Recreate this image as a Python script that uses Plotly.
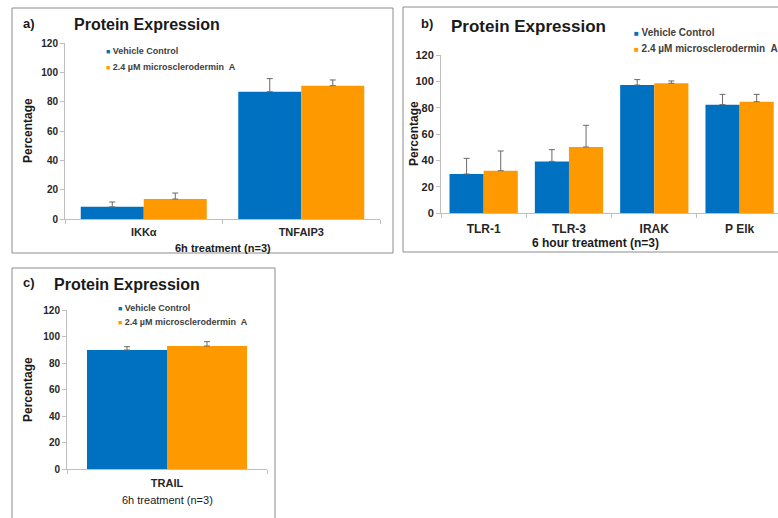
import plotly.graph_objects as go

# ---------------- data ----------------
series_names = ["Vehicle Control", "2.4 µM microsclerodermin  A"]

cats_a = ["IKKα", "TNFAIP3"]
vc_a = [8.3, 86.8]
vc_a_err = [3.3, 8.9]
ma_a = [13.6, 90.9]
ma_a_err = [4.1, 3.9]

cats_b = ["TLR-1", "TLR-3", "IRAK", "P Elk"]
vc_b = [29.6, 39.2, 97.2, 82.3]
vc_b_err = [11.9, 8.9, 4.1, 7.8]
ma_b = [32.1, 50.1, 98.5, 84.5]
ma_b_err = [15.0, 16.5, 1.8, 5.6]

cats_c = ["TRAIL"]
vc_c = [89.8]
vc_c_err = [2.5]
ma_c = [92.8]
ma_c_err = [3.3]

y_ticks = [0, 20, 40, 60, 80, 100, 120]

BLUE = "#0070C0"
ORANGE = "#FF9900"
FONT = "Liberation Sans, Arial, sans-serif"
W, H = 778, 518


def px(x):
    return x / W


def py(y):
    return 1 - y / H


fig = go.Figure()


def add_pair(cats, v1, e1, v2, e2, xa, ya):
    for vals, errs, col, name in [(v1, e1, BLUE, series_names[0]), (v2, e2, ORANGE, series_names[1])]:
        fig.add_trace(go.Bar(
            x=cats, y=vals, name=name, marker=dict(color=col, line=dict(width=0)),
            error_y=dict(type="data", array=errs, symmetric=False,
                         arrayminus=[0] * len(errs), color="#6a6a6a", thickness=1, width=3),
            xaxis=xa, yaxis=ya, showlegend=False,
        ))


add_pair(cats_a, vc_a, vc_a_err, ma_a, ma_a_err, "x", "y")
add_pair(cats_b, vc_b, vc_b_err, ma_b, ma_b_err, "x2", "y2")
add_pair(cats_c, vc_c, vc_c_err, ma_c, ma_c_err, "x3", "y3")

axis_col = "#bfbfbf"


def xax(domain, rng=None, size=11, standoff=6):
    d = dict(domain=domain, type="category", showgrid=False, showline=True, linecolor=axis_col,
             linewidth=1, ticks="outside", tickson="boundaries", ticklen=4, tickcolor=axis_col,
             tickfont=dict(family=FONT, size=size, color="#262626", weight="bold"), zeroline=False,
             fixedrange=True, automargin=False, ticklabelstandoff=standoff)
    if rng is not None:
        d["range"] = rng
    return d


def yax(domain, anchor, size=10):
    return dict(domain=domain, anchor=anchor, range=[0, 120], tickvals=y_ticks, showgrid=False,
                showline=True, linecolor=axis_col, linewidth=1, ticks="outside", ticklen=4,
                tickcolor=axis_col, zeroline=False, automargin=False,
                tickfont=dict(family=FONT, size=size, color="#262626", weight="bold"))


fig.update_layout(
    width=W, height=H, autosize=False,
    margin=dict(l=0, r=0, t=0, b=0, pad=0, autoexpand=False),
    paper_bgcolor="white", plot_bgcolor="white", showlegend=False,
    barmode="group", bargap=0.2, bargroupgap=0,
    font=dict(family=FONT, color="#262626"),
    xaxis=dict(**xax([px(65), px(380)], standoff=3), anchor="y"),
    yaxis=yax([py(219), py(43)], "x"),
    xaxis2=dict(**xax([px(441), 1.0], rng=[-0.5, 3.45], size=12, standoff=5), anchor="y2"),
    yaxis2=yax([py(213), py(55)], "x2", size=11),
    xaxis3=dict(**xax([px(67), px(267)], standoff=4), anchor="y3"),
    yaxis3=yax([py(469), py(310)], "x3"),
)

# panel frames
frame = dict(type="rect", xref="paper", yref="paper", line=dict(color="#8c8c8c", width=1),
             fillcolor="rgba(0,0,0,0)", layer="below")
fig.add_shape(**frame, x0=px(12), x1=px(393), y0=py(253), y1=py(8))
fig.add_shape(**frame, x0=px(403), x1=px(800), y0=py(252), y1=py(7))
fig.add_shape(**frame, x0=px(12), x1=px(275), y0=py(540), y1=py(268))

ann = []


def text(x, y, t, size, xanchor="left", bold=True, color="#1a1a1a", angle=0):
    ann.append(dict(x=px(x), y=py(y), xref="paper", yref="paper", text=t, showarrow=False,
                    xanchor=xanchor, yanchor="middle", textangle=angle,
                    font=dict(family=FONT, size=size, color=color,
                              weight="bold" if bold else "normal")))


def legend(x, y1, y2, size):
    for yy, col, name in [(y1, BLUE, series_names[0]), (y2, ORANGE, series_names[1])]:
        ann.append(dict(x=px(x), y=py(yy), xref="paper", yref="paper", showarrow=False,
                        xanchor="left", yanchor="middle",
                        text=f"<span style='color:{col};font-size:{size-2}px'>■</span> {name}",
                        font=dict(family=FONT, size=size, color="#404040", weight="bold")))


# panel a
text(21, 23, "a)", 13)
text(72, 24, "Protein Expression", 16)
legend(104, 51, 67, 9)
text(28, 131, "Percentage", 12, xanchor="center", angle=-90)
text(223, 248, "6h treatment (n=3)", 11, xanchor="center")

# panel b
text(419, 23, "b)", 13)
text(449, 26, "Protein Expression", 17)
legend(632, 33, 48, 10)
text(414, 134, "Percentage", 12, xanchor="center", angle=-90)
text(595, 243, "6 hour treatment (n=3)", 12, xanchor="center")

# panel c
text(21, 282, "c)", 13)
text(52, 284, "Protein Expression", 16)
legend(116, 308, 322, 9)
text(28, 390, "Percentage", 12, xanchor="center", angle=-90)
text(167, 500, "6h treatment (n=3)", 11, xanchor="center", bold=False)

fig.update_layout(annotations=ann)

fig.write_html("out.html", config={"displayModeBar": False},
               post_script="document.body.style.margin='0';document.body.style.overflow='hidden';")
